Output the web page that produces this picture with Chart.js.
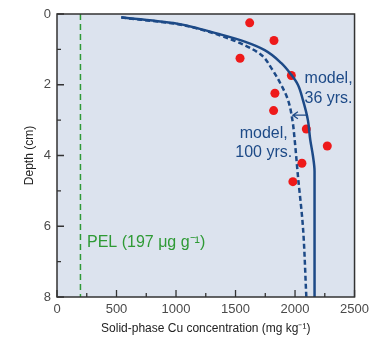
<!DOCTYPE html>
<html>
<head>
<meta charset="utf-8">
<script src="https://cdn.jsdelivr.net/npm/chart.js@4/dist/chart.umd.min.js"></script>
<style>
  html, body { margin: 0; padding: 0; background: #ffffff; }
  #wrap { width: 374px; height: 338px; }
</style>
</head>
<body>
<div id="wrap"><canvas id="c" width="374" height="338"></canvas></div>
<script>
// ---- Data ----
const obsCu    = [1619, 1823, 1538, 1969, 1831, 1820, 2095, 2271, 2058, 1982];
const obsDepth = [0.25, 0.75, 1.25, 1.74, 2.24, 2.73, 3.25, 3.73, 4.22, 4.74];

const model36Cu    = [540, 1000, 1200, 1367, 1577, 1745, 1885, 1969, 2024, 2066, 2108, 2128, 2150, 2164, 2164];
const model36Depth = [0.09, 0.27, 0.42, 0.57, 0.78, 1.02, 1.39, 1.72, 2.00, 2.43, 3.00, 3.56, 4.00, 4.45, 8.00];

const model100Cu    = [540, 1000, 1200, 1367, 1577, 1717, 1801, 1875, 1941, 1978, 1997, 2025, 2066, 2095];
const model100Depth = [0.10, 0.28, 0.43, 0.60, 0.88, 1.16, 1.53, 1.95, 2.43, 3.00, 3.56, 4.60, 6.00, 8.00];

const pelValue = 197;
const xMajorTicks = [0, 500, 1000, 1500, 2000, 2500];
const xMinorTicks = [250, 750, 1250, 1750, 2250];
const yMajorTicks = [0, 2, 4, 6, 8];
const yMinorTicks = [1, 3, 5, 7];

const toPts = (xs, ys) => xs.map((x, i) => ({ x: x, y: ys[i] }));

const navy = '#1d4a87';
const fontFam = '"Liberation Sans", Arial, sans-serif';

const decor = {
  id: 'decor',
  beforeDraw(chart) {
    const { ctx, chartArea: a } = chart;
    ctx.save();
    ctx.fillStyle = '#dce3ee';
    ctx.fillRect(a.left, a.top, a.right - a.left, a.bottom - a.top);
    ctx.restore();
  },
  afterDatasetsDraw(chart) {
    const { ctx, chartArea: a } = chart;
    const xs = chart.scales.x, ys = chart.scales.y;
    ctx.save();
    // frame
    ctx.strokeStyle = '#333';
    ctx.lineWidth = 1.5;
    ctx.strokeRect(a.left, a.top, a.right - a.left, a.bottom - a.top);
    // inward ticks
    ctx.lineWidth = 1.3;
    ctx.beginPath();
    xMajorTicks.forEach(v => { const p = xs.getPixelForValue(v); ctx.moveTo(p, a.bottom); ctx.lineTo(p, a.bottom - 7); });
    xMinorTicks.forEach(v => { const p = xs.getPixelForValue(v); ctx.moveTo(p, a.bottom); ctx.lineTo(p, a.bottom - 4); });
    yMajorTicks.forEach(v => { const p = ys.getPixelForValue(v); ctx.moveTo(a.left, p); ctx.lineTo(a.left + 7, p); });
    yMinorTicks.forEach(v => { const p = ys.getPixelForValue(v); ctx.moveTo(a.left, p); ctx.lineTo(a.left + 4, p); });
    ctx.stroke();

    // annotations
    ctx.font = '16px ' + fontFam;
    ctx.textBaseline = 'middle';
    ctx.fillStyle = navy;
    ctx.textAlign = 'left';
    ctx.fillText('model,', xs.getPixelForValue(2080), ys.getPixelForValue(1.83));
    ctx.fillText('36 yrs.', xs.getPixelForValue(2080), ys.getPixelForValue(2.40));
    ctx.textAlign = 'center';
    ctx.fillText('model,', xs.getPixelForValue(1737), ys.getPixelForValue(3.37));
    ctx.fillText('100 yrs.', xs.getPixelForValue(1737), ys.getPixelForValue(3.93));

    // arrow from 36-yr curve to 100-yr curve
    const ay = ys.getPixelForValue(2.86);
    const ax1 = xs.getPixelForValue(2095), ax2 = xs.getPixelForValue(1982);
    ctx.strokeStyle = navy;
    ctx.lineWidth = 1.3;
    ctx.beginPath();
    ctx.moveTo(ax1, ay); ctx.lineTo(ax2, ay);
    ctx.moveTo(ax2 + 5, ay - 3.5); ctx.lineTo(ax2, ay); ctx.lineTo(ax2 + 5, ay + 3.5);
    ctx.stroke();

    // PEL label
    ctx.fillStyle = '#2e9a35';
    ctx.textAlign = 'left';
    ctx.fillText('PEL (197 \u03BCg g\u207B\u00B9)', xs.getPixelForValue(252), ys.getPixelForValue(6.47));
    ctx.restore();
  }
};

new Chart(document.getElementById('c'), {
  type: 'scatter',
  data: {
    datasets: [
      {
        label: 'PEL',
        data: [{ x: pelValue, y: 0 }, { x: pelValue, y: 8 }],
        showLine: true, borderColor: '#2e9a35', borderWidth: 1.5, borderDash: [6, 4],
        pointRadius: 0, fill: false
      },
      {
        label: 'model, 100 yrs.',
        data: toPts(model100Cu, model100Depth),
        indexAxis: 'y',
        showLine: true, borderColor: navy, borderWidth: 2.5, borderDash: [5, 3],
        pointRadius: 0, cubicInterpolationMode: 'monotone', fill: false
      },
      {
        label: 'model, 36 yrs.',
        data: toPts(model36Cu, model36Depth),
        indexAxis: 'y',
        showLine: true, borderColor: navy, borderWidth: 2.5,
        pointRadius: 0, cubicInterpolationMode: 'monotone', fill: false
      },
      {
        label: 'observed',
        data: toPts(obsCu, obsDepth),
        showLine: false, pointRadius: 4.5, pointBackgroundColor: '#ee1a1a', pointBorderWidth: 0,
        pointBorderColor: '#ee1a1a'
      }
    ]
  },
  options: {
    responsive: false,
    devicePixelRatio: 1,
    animation: false,
    events: [],
    layout: { padding: { top: 14, right: 19, left: 0, bottom: 0 } },
    plugins: { legend: { display: false }, tooltip: { enabled: false } },
    scales: {
      x: {
        type: 'linear', min: 0, max: 2500,
        afterFit(s) { s.height = 41; },
        grid: { display: false, drawTicks: false },
        border: { display: false },
        ticks: { stepSize: 500, padding: 5, color: '#4a4a4a', callback: v => String(v),
                 font: { size: 13, family: fontFam } },
        title: { display: true, text: 'Solid-phase Cu concentration (mg kg\u207B\u00B9)', color: '#222',
                 padding: { top: 0, bottom: 2 }, font: { size: 12, family: fontFam } }
      },
      y: {
        type: 'linear', min: 0, max: 8, reverse: true,
        afterFit(s) { s.width = 57; },
        grid: { display: false, drawTicks: false },
        border: { display: false },
        ticks: { stepSize: 2, padding: 6, color: '#4a4a4a', callback: v => String(v),
                 font: { size: 13, family: fontFam } },
        title: { display: true, text: 'Depth (cm)', color: '#222',
                 padding: { top: 22, bottom: 0 }, font: { size: 12, family: fontFam } }
      }
    }
  },
  plugins: [decor]
});
</script>
</body>
</html>
